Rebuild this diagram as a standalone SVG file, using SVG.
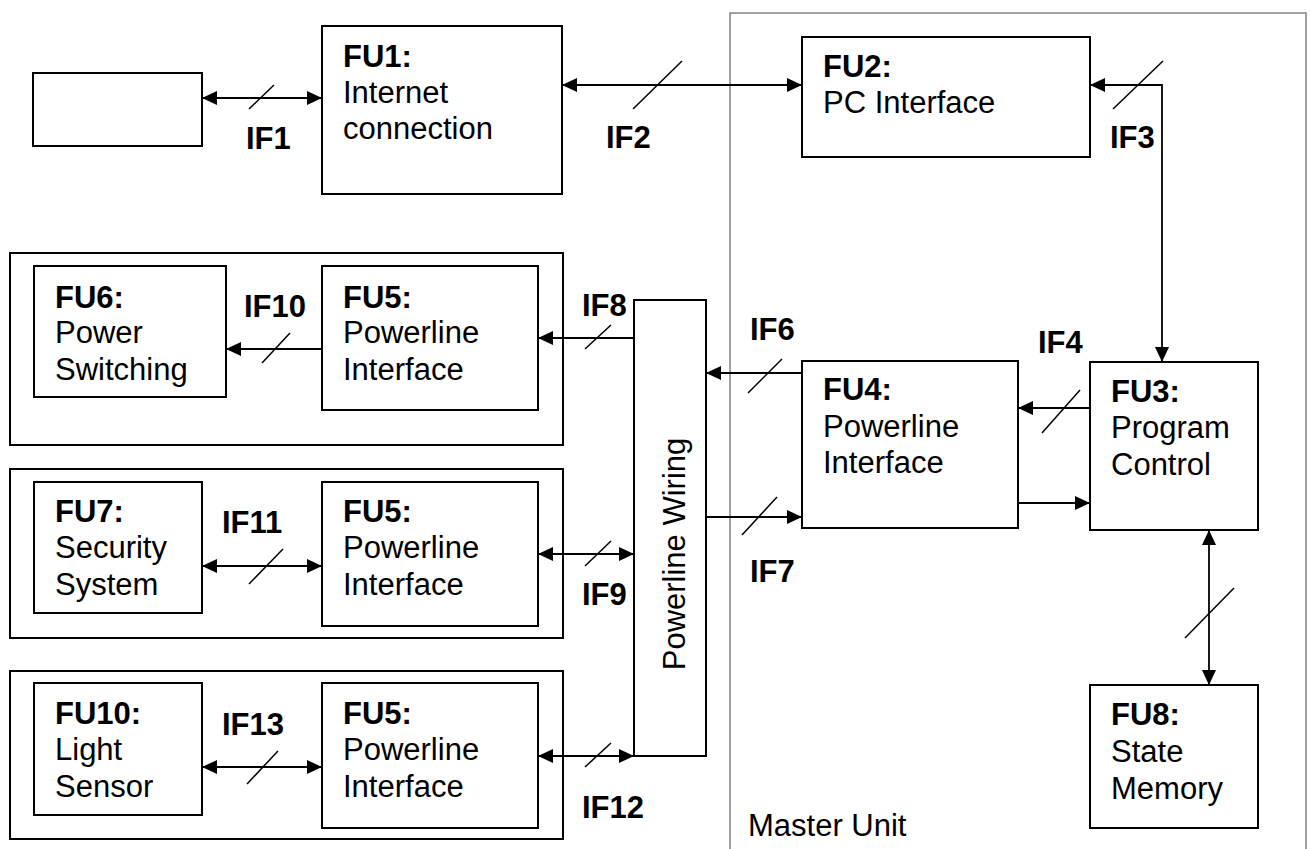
<svg xmlns="http://www.w3.org/2000/svg" width="1310" height="849" viewBox="0 0 1310 849">
  <style>
    .box { fill: #fff; stroke: #000; stroke-width: 2; }
    .grp { fill: none; stroke: #000; stroke-width: 2; }
    .master { fill: none; stroke: #7a7a7a; stroke-width: 1.4; }
    .wire { fill: none; stroke: #000; stroke-width: 1.8; }
    .both { marker-start: url(#head); marker-end: url(#head); }
    .one { marker-end: url(#head); }
    .bus { stroke: #000; stroke-width: 1.5; }
    text { font-family: "Liberation Sans", Arial, sans-serif; font-size: 31px; fill: #000; }
    .b { font-weight: bold; }
  </style>
  <defs>
    <marker id="head" markerUnits="userSpaceOnUse" markerWidth="16" markerHeight="14" refX="15" refY="7" orient="auto-start-reverse">
      <path d="M0,0 L15,7 L0,14 z" fill="#000"/>
    </marker>
  </defs>

  <!-- Master unit enclosure -->
  <rect class="master" x="730" y="13" width="576" height="850"/>
  <text x="748" y="836">Master Unit</text>

  <!-- Remote unit enclosures -->
  <rect class="grp" x="10" y="253" width="553" height="192"/>
  <rect class="grp" x="10" y="469" width="553" height="169"/>
  <rect class="grp" x="10" y="671" width="553" height="168"/>

  <g id="ext">
    <rect class="box" x="33" y="73" width="169" height="73"/>
  </g>
  <g id="fu1">
    <rect class="box" x="322" y="26" width="240" height="168"/>
    <text class="b" x="343" y="67">FU1:</text>
    <text x="343" y="103">Internet</text>
    <text x="343" y="139">connection</text>
  </g>
  <g id="fu2">
    <rect class="box" x="802" y="37" width="288" height="120"/>
    <text class="b" x="823" y="77">FU2:</text>
    <text x="823" y="113">PC Interface</text>
  </g>
  <g id="fu3">
    <rect class="box" x="1090" y="362" width="168" height="168"/>
    <text class="b" x="1111" y="402">FU3:</text>
    <text x="1111" y="438">Program</text>
    <text x="1111" y="475">Control</text>
  </g>
  <g id="fu4">
    <rect class="box" x="802" y="361" width="216" height="167"/>
    <text class="b" x="823" y="400">FU4:</text>
    <text x="823" y="437">Powerline</text>
    <text x="823" y="473">Interface</text>
  </g>
  <g id="fu8">
    <rect class="box" x="1090" y="685" width="168" height="143"/>
    <text class="b" x="1111" y="725">FU8:</text>
    <text x="1111" y="762">State</text>
    <text x="1111" y="799">Memory</text>
  </g>
  <g id="wiring">
    <rect class="box" x="634" y="300" width="72" height="456"/>
    <text transform="translate(685,554) rotate(-90)" text-anchor="middle">Powerline Wiring</text>
  </g>
  <g id="fu6">
    <rect class="box" x="34" y="266" width="192" height="131"/>
    <text class="b" x="55" y="308">FU6:</text>
    <text x="55" y="343">Power</text>
    <text x="55" y="380">Switching</text>
  </g>
  <g id="fu5a">
    <rect class="box" x="322" y="266" width="216" height="144"/>
    <text class="b" x="343" y="308">FU5:</text>
    <text x="343" y="343">Powerline</text>
    <text x="343" y="380">Interface</text>
  </g>
  <g id="fu7">
    <rect class="box" x="34" y="482" width="168" height="131"/>
    <text class="b" x="55" y="522">FU7:</text>
    <text x="55" y="558">Security</text>
    <text x="55" y="595">System</text>
  </g>
  <g id="fu5b">
    <rect class="box" x="322" y="482" width="216" height="144"/>
    <text class="b" x="343" y="522">FU5:</text>
    <text x="343" y="558">Powerline</text>
    <text x="343" y="595">Interface</text>
  </g>
  <g id="fu10">
    <rect class="box" x="34" y="683" width="168" height="132"/>
    <text class="b" x="55" y="724">FU10:</text>
    <text x="55" y="760">Light</text>
    <text x="55" y="797">Sensor</text>
  </g>
  <g id="fu5c">
    <rect class="box" x="322" y="683" width="216" height="145"/>
    <text class="b" x="343" y="724">FU5:</text>
    <text x="343" y="760">Powerline</text>
    <text x="343" y="797">Interface</text>
  </g>

  <g id="connectors">
    <!-- IF1 -->
    <line class="wire both" x1="202" y1="98" x2="322" y2="98"/>
    <line class="bus" x1="249" y1="109" x2="274" y2="85"/>
    <!-- IF2 -->
    <line class="wire both" x1="562" y1="85" x2="802" y2="85"/>
    <line class="bus" x1="633" y1="109" x2="682" y2="61"/>
    <!-- IF3 -->
    <path class="wire both" d="M1162,362 V85 H1090"/>
    <line class="bus" x1="1113" y1="109" x2="1163" y2="61"/>
    <!-- IF4 -->
    <line class="wire one" x1="1090" y1="408" x2="1018" y2="408"/>
    <line class="bus" x1="1042" y1="433" x2="1080" y2="390"/>
    <line class="wire one" x1="1018" y1="503" x2="1090" y2="503"/>
    <!-- FU3 to FU8 -->
    <line class="wire both" x1="1209" y1="530" x2="1209" y2="685"/>
    <line class="bus" x1="1185" y1="638" x2="1234" y2="588"/>
    <!-- IF6 -->
    <line class="wire one" x1="802" y1="373" x2="706" y2="373"/>
    <line class="bus" x1="748" y1="393" x2="782" y2="359"/>
    <!-- IF7 -->
    <line class="wire one" x1="706" y1="517" x2="802" y2="517"/>
    <line class="bus" x1="742" y1="535" x2="777" y2="497"/>
    <!-- IF8 -->
    <line class="wire one" x1="634" y1="338" x2="538" y2="338"/>
    <line class="bus" x1="585" y1="349" x2="611" y2="325"/>
    <!-- IF9 -->
    <line class="wire both" x1="538" y1="554" x2="634" y2="554"/>
    <line class="bus" x1="585" y1="566" x2="611" y2="541"/>
    <!-- IF10 -->
    <line class="wire one" x1="322" y1="349" x2="226" y2="349"/>
    <line class="bus" x1="262" y1="363" x2="290" y2="333"/>
    <!-- IF11 -->
    <line class="wire both" x1="202" y1="566" x2="322" y2="566"/>
    <line class="bus" x1="249" y1="584" x2="283" y2="549"/>
    <!-- IF12 -->
    <line class="wire both" x1="538" y1="756" x2="634" y2="756"/>
    <line class="bus" x1="585" y1="767" x2="611" y2="743"/>
    <!-- IF13 -->
    <line class="wire both" x1="202" y1="767" x2="322" y2="767"/>
    <line class="bus" x1="247" y1="784" x2="278" y2="751"/>
  </g>

  <g id="labels">
    <text class="b" x="246" y="149">IF1</text>
    <text class="b" x="606" y="148">IF2</text>
    <text class="b" x="1110" y="148">IF3</text>
    <text class="b" x="1038" y="353">IF4</text>
    <text class="b" x="750" y="340">IF6</text>
    <text class="b" x="750" y="582">IF7</text>
    <text class="b" x="582" y="316">IF8</text>
    <text class="b" x="582" y="605">IF9</text>
    <text class="b" x="244" y="317">IF10</text>
    <text class="b" x="222" y="533">IF11</text>
    <text class="b" x="582" y="818">IF12</text>
    <text class="b" x="222" y="735">IF13</text>
  </g>
</svg>
